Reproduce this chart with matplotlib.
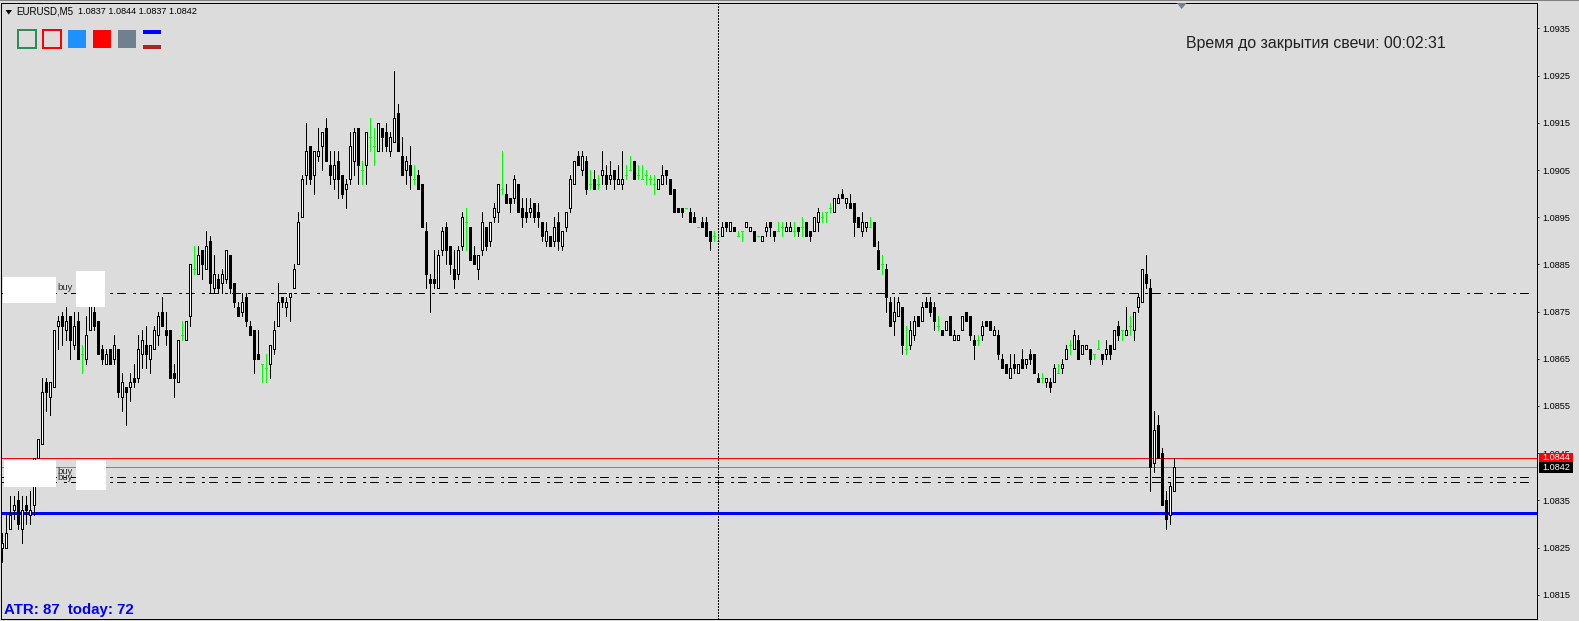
import numpy as np
import matplotlib
matplotlib.use("Agg")
import matplotlib.pyplot as plt
from matplotlib.patches import Rectangle, Polygon

# All prices are four-digit quotes, given in pips above 1.0800
BASE = 1.08
PIP = 0.0001

kind = ("UUUUDUDUUU" "UDUUUDUDUD" "GUUDDDUDUD" "UDUDUUDUUU" "DDDDUGUUGU" "DUDUDUUDDD"
        "UDDDDGGUUU" "DUUUUUUDUU" "UDDUDDUUUD" "GUGGUDDUUD" "DUDGDDDDDU" "UDDDUUGDDU"
        "UDUUUGDDUD" "DDUDDDUDUD" "UUUUDUDGDG" "UDUDUUGGDG" "GGGGUUDDDD" "DGDDGDDDGG"
        "UDUDGGUUDG" "UUDDGGUUGD" "GDDUUGGGUU" "DUDDDUUGDD" "GDDUUDGUUD" "UDDDGDUDUU"
        "UDDDGUDDUD" "DDUDUDUDDD" "GUDUGUUGUD" "UUDGGDUDUD" "GUGUUUDDUD" "DDUU")

body_upper = [26,28,32,34,35,33,34,33,44,48, 58,60,60,71,73,74,73,74,72,73,
              66,70,77,75,73,67,66,67,68,67, 60,59,60,61,67,69,68,68,71,74,
              75,71,71,62,69,70,73,85,84,87, 88,89,90,83,82,83,88,87,81,76,
              77,78,72,71,66,64,63,68,71,77, 78,77,79,84,94,103,109,110,109,109,
              113,114,106,106,107,104,102,110,113,114, 105,113,112,110,115,114,113,112,116,117,
              108,107,106,103,104,102,92,82,82,87, 92,93,89,84,88,95,94,93,87,87,
              94,93,94,97,102,101,100,99,103,102, 97,96,97,98,96,94,92,91,93,94,
              92,96,103,107,108,108,107,102,103,102, 105,104,104,105,103,103,104,105,107,104,
              103,104,103,102,103,104,105,103,101,97, 97,97,96,95,93,94,94,92,91,90,
              93,94,94,93,91,92,94,93,92,91, 91,93,94,92,92,93,93,93,92,93,
              93,94,92,95,96,95,96,97,99,99, 100,99,98,98,95,94,94,93,94,88,
              85,84,77,75,77,76,67,71,73,74, 76,77,77,76,72,71,73,74,70,70,
              74,75,74,69,69,72,73,73,71,70, 65,64,63,64,64,65,65,66,66,61,
              61,61,60,63,62,64,67,68,70,69, 68,68,67,66,67,66,67,68,71,72,
              71,71,72,75,78,84,83,80,50,51, 45,35,38,42]

body_lower = [25,25,29,33,30,29,33,32,34,44, 47,58,57,59,72,72,71,69,68,65,
              66,65,71,72,66,65,64,64,65,58, 57,58,59,60,61,66,66,65,67,70,
              72,70,61,61,60,70,69,74,84,83, 85,84,81,80,80,81,82,80,77,74,
              75,73,70,65,65,64,63,64,67,72, 77,76,78,80,85,95,104,103,104,108,
              110,107,104,103,103,100,101,103,107,106, 105,106,112,110,109,112,110,109,111,109,
              104,105,104,103,101,93,83,81,81,80, 88,88,85,82,83,89,94,86,85,84,
              88,89,90,95,96,101,98,98,99,96, 95,95,96,95,95,91,90,89,90,90,
              89,93,97,102,106,105,101,102,101,102, 104,102,103,103,102,102,104,105,103,104,
              103,104,103,102,101,102,104,100,96,96, 96,97,94,94,93,93,91,90,91,90,
              91,93,92,92,91,92,93,92,90,91, 90,92,93,91,92,93,92,92,92,92,
              93,91,91,92,94,95,96,97,96,98, 99,98,97,94,93,92,93,93,89,84,
              85,78,72,73,74,68,67,68,70,72, 73,76,75,73,72,70,71,70,69,69,
              71,73,70,68,69,70,72,71,70,66, 63,62,61,63,62,63,64,65,62,60,
              61,60,59,60,62,63,65,68,67,65, 66,67,65,66,67,65,66,66,67,70,
              71,70,72,71,76,77,81,42,43,44, 34,31,32,37]

wick_high = [28,32,36,36,37,36,36,37,44,48, 61,61,60,71,74,75,76,74,75,75,
             68,74,79,76,73,68,67,67,70,67, 62,59,62,64,70,71,72,68,72,75,
             78,75,71,64,69,73,73,85,89,89, 88,92,91,87,83,84,88,87,81,77,
             79,79,73,71,71,64,66,68,73,81, 78,78,79,85,96,104,115,110,109,114,
             113,116,109,109,109,104,103,113,114,114, 107,113,116,114,115,114,115,113,126,119,
             112,108,110,106,105,102,94,83,88,88, 93,94,89,88,89,96,97,93,89,87,
             96,93,94,98,102,109,102,99,104,102, 99,99,99,98,98,94,94,91,95,96,
             92,96,104,107,109,109,108,105,105,104, 109,106,107,105,106,109,106,108,107,106,
             106,105,104,104,103,106,105,103,101,97, 97,97,97,96,93,95,95,92,92,91,
             94,94,94,93,92,92,94,93,92,91, 91,94,94,92,94,94,94,94,94,93,
             95,94,92,95,97,96,96,98,99,100, 101,99,100,98,95,96,94,95,94,90,
             87,85,78,78,78,76,72,73,74,74, 77,78,78,77,74,71,73,74,71,70,
             74,75,74,70,70,73,73,73,72,71, 66,64,66,66,64,67,65,67,66,62,
             62,61,61,64,64,65,68,69,71,70, 68,68,67,66,69,66,69,68,71,73,
             71,76,74,75,79,84,87,82,54,53, 46,37,39,44]

wick_low = [22,25,29,31,29,26,30,30,32,44, 47,54,53,59,67,68,69,65,67,65,
            62,64,71,71,66,64,64,64,64,57, 54,51,56,59,60,63,63,62,67,68,
            72,68,61,57,60,69,69,72,83,83, 82,84,79,79,79,79,81,79,76,74,
            74,72,70,62,65,60,60,61,66,72, 76,74,73,80,85,95,102,102,100,107,
            105,107,102,101,99,99,97,102,104,102, 102,102,109,106,109,109,109,108,111,109,
            104,102,101,102,101,93,80,75,80,80, 87,85,83,80,82,88,88,86,85,82,
            87,88,89,94,94,100,98,96,98,96, 93,94,95,94,93,90,89,89,89,88,
            88,92,96,102,106,104,100,101,101,101, 102,101,102,101,102,101,103,105,103,103,
            103,102,102,100,101,102,102,100,96,96, 95,97,94,94,93,93,91,88,90,90,
            91,92,92,92,91,90,93,92,90,91, 90,91,91,90,92,91,92,92,91,91,
            91,91,90,92,92,94,94,96,96,98, 99,97,97,91,93,91,92,93,89,84,
            83,75,72,70,74,66,66,67,69,72, 73,76,74,71,71,70,71,70,69,69,
            71,73,69,65,68,69,72,71,70,65, 63,62,61,62,62,63,63,64,62,60,
            60,59,58,60,62,62,65,66,67,65, 66,67,64,65,67,64,65,65,67,69,
            69,70,70,69,75,77,80,37,41,44, 34,29,30,37]

dash_levels = [78.9, 39.9, 38.8]
blue_level = 32.3
ask_level = 44
bid_level = 42
cross_index = 179
tick_pips = list(range(15, 136, 10))

assert len(kind) == len(body_upper) == len(body_lower) == len(wick_high) == len(wick_low)

W, H = 1579, 621
BG = "#DCDCDC"
PX = 0.72
plt.rcParams["lines.scale_dashes"] = False
plt.rcParams["font.family"] = ["Liberation Sans", "DejaVu Sans"]

def price(v):
    return BASE + np.asarray(v, dtype=float) * PIP

fig = plt.figure(figsize=(W / 100, H / 100), dpi=100, facecolor=BG)
L, R, T, B = 1.0, 1536.5, 3.0, 619.0
ax = fig.add_axes([L / W, 1 - B / H, (R - L) / W, (B - T) / H], facecolor=BG)
ax.set_xlim((L - 2.33) / 4, (R - 2.33) / 4)
ax.set_ylim(1.0935 - (B - 28.4) / 47200, 1.0935 + (28.4 - T) / 47200)
for s in ax.spines.values():
    s.set_linewidth(PX)
    s.set_color("black")
    s.set_antialiased(False)
ax.set_xticks([])
ax.yaxis.tick_right()
ax.set_yticks(price(tick_pips))
ax.set_yticklabels([f"{p:.4f}" for p in price(tick_pips)], fontsize=6.6)
ax.tick_params(axis="y", length=1.6, width=PX, pad=2.4)

dash_dot = (0, (6.4, 5.3, 2.0, 3.58))
ax.hlines(price(dash_levels), (2.3 - L) / (R - L), (1532 - L) / (R - L), colors="black",
          linewidth=PX, linestyles=[dash_dot], transform=ax.get_yaxis_transform(),
          antialiased=False, zorder=1)
ax.axhline(price(blue_level), color="#0000FF", linewidth=3 * PX, antialiased=False, zorder=1)
ax.axhline(price(ask_level), color="#FF0000", linewidth=PX, antialiased=False, zorder=1)
ax.axhline(price(bid_level), color="#778899", linewidth=PX, antialiased=False, zorder=1)
ax.axvline(cross_index, color="black", linewidth=PX, linestyle=(0, (1.44, 1.44)),
           antialiased=False, zorder=4)

idx = np.arange(len(kind))
is_doji = np.array([c == "G" for c in kind])
is_up = np.array([c == "U" for c in kind])
is_dn = np.array([c == "D" for c in kind])
upper, lower = price(body_upper), price(body_lower)
high, low = price(wick_high), price(wick_low)

ax.vlines(idx[~is_doji], low[~is_doji], high[~is_doji], colors="black", linewidth=PX,
          antialiased=False, zorder=2)
ax.vlines(idx[is_doji], low[is_doji], high[is_doji], colors="#00FF00", linewidth=PX,
          antialiased=False, zorder=2)
ax.hlines(upper[is_doji], idx[is_doji] - 0.25, idx[is_doji] + 0.25, colors="#00FF00",
          linewidth=PX, antialiased=False, zorder=2)
ax.bar(idx[is_dn], (upper - lower)[is_dn], bottom=lower[is_dn], width=0.5, facecolor="black",
       edgecolor="black", linewidth=PX, antialiased=False, zorder=3)
ax.bar(idx[is_up], (upper - lower)[is_up], bottom=lower[is_up], width=0.5, facecolor="white",
       edgecolor="black", linewidth=PX, antialiased=False, zorder=3)

def box(x0, y0, x1, y1, color, z=5):
    fig.add_artist(Rectangle((x0 / W, 1 - y1 / H), (x1 - x0) / W, (y1 - y0) / H,
                             transform=fig.transFigure, facecolor=color, edgecolor="none",
                             antialiased=False, zorder=z))

def outline(x0, y0, x1, y1, color):
    fig.add_artist(Rectangle((x0 / W, 1 - y1 / H), (x1 - x0) / W, (y1 - y0) / H,
                             transform=fig.transFigure, facecolor="none", edgecolor=color,
                             linewidth=2 * PX, antialiased=False, zorder=5))

def label(x, y, s, **kw):
    kw.setdefault("va", "center")
    kw.setdefault("zorder", 6)
    fig.text(x / W, 1 - y / H, s, **kw)

box(0, 0, W, 1, "#808080")
for r in [(3, 277, 56, 303), (76, 271, 105, 307), (4, 460, 56, 487), (76, 460, 106, 490)]:
    box(*r, "white")
label(57.5, 287, "buy", fontsize=6.8, color="#303030")
label(57.5, 472, "buy", fontsize=6.8, color="#303030")
label(57.5, 477, "buy", fontsize=6.8, color="#303030")

outline(18, 30, 36, 48, "#2E8B57")
outline(43, 30, 61, 48, "#FF0000")
box(68, 30, 86, 48, "#1E90FF")
box(93, 30, 111, 48, "#FF0000")
box(118, 30, 136, 48, "#708090")
box(143, 30, 161, 34, "#0000FF")
box(143, 45, 161, 49, "#B22222")

fig.add_artist(Polygon([(5.5 / W, 1 - 10 / H), (12 / W, 1 - 10 / H), (8.7 / W, 1 - 14.5 / H)],
                       transform=fig.transFigure, facecolor="black", edgecolor="none", zorder=5))
fig.add_artist(Polygon([(1177 / W, 1 - 3 / H), (1186.5 / W, 1 - 3 / H), (1181.7 / W, 1 - 9 / H)],
                       transform=fig.transFigure, facecolor="#708090", edgecolor="none", zorder=5))

label(16.5, 11.5, "EURUSD,M5", fontsize=7.0, color="black")
label(78, 11.5, "1.0837 1.0844 1.0837 1.0842", fontsize=6.6, color="black")
label(1186.5, 43.5, "Время до закрытия свечи: 00:02:31", fontsize=11.45, color="#202020")
label(4, 610, "ATR: 87  today: 72", fontsize=10.8, color="#0000FF", fontweight="bold")

box(1539, 453, 1573, 462, "#FF0000")
box(1539, 462, 1573, 472.5, "black")
label(1542, 458, f"{price(ask_level):.4f}", fontsize=6.6, color="white")
label(1542, 467.5, f"{price(bid_level):.4f}", fontsize=6.6, color="white")

fig.savefig("out.png", dpi=100, facecolor=BG)
